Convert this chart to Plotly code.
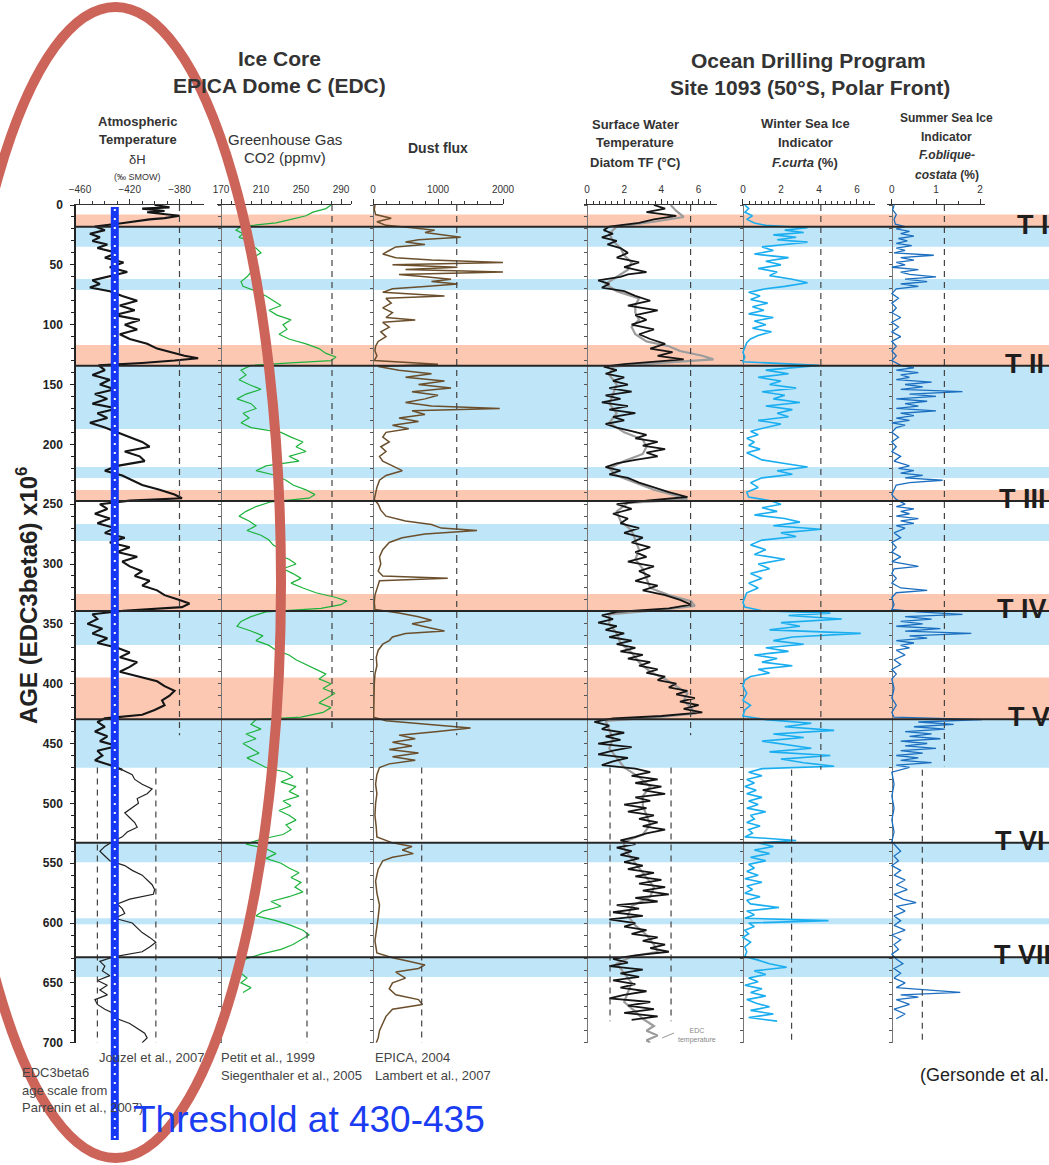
import plotly.graph_objects as go

W, H = 1049, 1165
FONT = "Liberation Sans, Arial, sans-serif"

# ---------------- data (age in kyr, value) ----------------
deltaH = [(0,-400),(2,-388),(3,-410),(5,-392),(6,-406),(8,-390),(9,-380),(11,-392),(12,-404),(15,-425),(18,-448),(21,-440),(24,-452),(27,-444),
          (30,-450),(33,-438),(36,-446),(40,-430),(44,-440),(48,-425),(52,-436),(56,-422),(60,-438),(63,-450),
          (66,-444),(69,-452),(72,-436),(76,-426),(80,-414),(84,-428),(88,-416),(92,-432),(96,-412),(100,-424),
          (104,-414),(108,-428),(112,-420),(116,-406),(120,-398),(123,-388),(126,-376),(128,-365),(130,-384),(132,-410),
          (134,-445),(138,-440),(142,-450),(146,-436),(150,-444),(154,-432),(158,-448),(162,-438),(166,-450),(170,-430),
          (174,-446),(178,-438),(182,-452),(186,-440),(190,-430),(194,-420),(198,-410),(202,-404),(206,-424),(210,-412),
          (214,-408),(218,-430),(222,-440),(226,-426),(230,-418),(234,-410),(238,-396),(242,-384),(245,-378),(247,-420),
          (250,-444),(254,-438),(258,-448),(262,-436),(266,-446),(270,-432),(274,-440),(278,-424),(282,-436),(286,-420),
          (290,-430),(294,-414),(298,-426),(302,-420),(306,-410),(310,-416),(314,-404),(318,-410),(322,-398),(326,-392),
          (330,-380),(333,-372),(336,-378),(339,-425),(342,-450),(346,-446),(350,-454),(354,-442),(358,-450),(362,-438),
          (366,-446),(370,-430),(374,-420),(378,-428),(382,-414),(386,-420),(390,-428),(394,-412),(398,-398),(402,-392),
          (406,-384),(410,-388),(414,-394),(418,-392),(422,-400),(426,-410),(429,-440),(432,-446),(436,-440),(440,-448),
          (444,-438),(448,-444),(452,-430),(456,-446),(460,-442),(464,-448),(468,-436),(472,-426),(476,-418),(480,-416),
          (484,-410),(488,-402),(492,-406),(496,-414),(500,-413),(504,-418),(508,-424),(512,-420),(516,-416),(520,-414),
          (524,-422),(528,-426),(532,-434),(536,-440),(540,-444),(544,-440),(548,-436),(552,-424),(556,-418),(560,-410),
          (564,-406),(568,-402),(572,-400),(576,-401),(580,-420),(584,-430),(588,-426),(592,-424),(596,-432),(600,-418),
          (604,-414),(608,-410),(612,-404),(616,-399),(620,-404),(624,-410),(628,-432),(632,-444),(636,-440),(640,-442),
          (644,-436),(648,-446),(652,-438),(656,-444),(660,-438),(664,-448),(668,-446),(672,-440),(676,-432),(680,-430),
          (684,-420),(688,-414),(692,-408),(696,-406),(700,-410)]

co2 = [(0,280),(3,275),(6,262),(9,255),(12,240),(15,225),(18,190),(21,185),(24,192),(27,188),(30,200),(33,195),
       (36,205),(40,210),(44,202),(48,198),(52,208),(56,200),(60,196),(64,190),(68,192),(72,205),(76,215),(80,222),
       (84,230),(88,218),(92,226),(96,240),(100,232),(104,236),(108,228),(112,238),(116,255),(120,268),(124,275),
       (127,285),(130,280),(132,240),(134,200),(138,190),(142,195),(146,188),(150,198),(154,210),(158,195),(162,186),
       (166,200),(170,205),(174,192),(178,198),(182,190),(186,200),(190,230),(194,240),(198,252),(202,245),(206,255),
       (210,238),(214,248),(218,215),(222,205),(226,225),(230,235),(234,242),(238,255),(242,264),(245,258),(248,220),
       (252,205),(256,195),(260,188),(264,198),(268,205),(272,196),(276,210),(280,218),(284,222),(288,230),(292,226),
       (296,238),(300,245),(304,232),(308,242),(312,250),(316,240),(320,252),(324,265),(328,285),(331,296),(334,290),
       (337,270),(340,215),(344,200),(348,190),(352,186),(356,200),(360,212),(364,205),(368,218),(372,225),(376,238),
       (380,245),(384,255),(388,265),(392,275),(396,268),(400,280),(404,272),(408,284),(412,276),(416,268),(420,280),
       (424,272),(428,250),(430,205),(434,200),(438,210),(442,195),(446,205),(450,192),(454,200),(458,208),(462,196),
       (466,205),(470,215),(474,235),(478,242),(482,230),(486,245),(490,238),(494,248),(498,232),(502,240),(506,228),
       (510,238),(514,245),(518,235),(522,240),(526,232),(530,210),(534,195),(538,215),(542,225),(546,215),(550,230),
       (554,238),(558,248),(562,240),(566,250),(570,244),(574,252),(578,238),(582,220),(586,230),(590,212),(594,205),
       (598,225),(602,240),(606,252),(610,258),(614,250),(618,242),(622,230),(626,210),(630,195),(634,190),(638,185),
       (642,190),(646,196),(650,190),(654,200),(658,192)]

dust = [(0,30),(4,20),(8,40),(11,280),(14,60),(17,200),(19,600),(21,950),(23,800),(25,1100),(27,1350),(29,700),
        (31,500),(33,800),(35,350),(38,250),(41,150),(44,350),(46,900),(48,2000),(50,300),(52,1300),(54,500),
        (56,2000),(58,400),(60,800),(62,1200),(64,900),(66,1300),(68,800),(70,300),(73,150),(76,1100),(78,200),
        (82,280),(86,150),(90,300),(94,200),(96,650),(98,150),(102,250),(106,120),(110,200),(114,80),(118,40),
        (122,30),(126,60),(130,20),(133,1000),(135,80),(138,400),(141,900),(144,500),(147,1100),(150,700),
        (153,1200),(156,600),(159,1000),(162,800),(165,500),(168,900),(170,1950),(172,600),(175,800),(178,400),
        (181,700),(184,300),(187,550),(190,200),(194,150),(198,250),(202,120),(206,200),(210,100),(214,150),
        (218,300),(222,450),(226,200),(230,100),(236,60),(242,30),(246,20),(250,80),(255,120),(260,200),(264,500),
        (267,900),(270,1050),(272,1600),(275,800),(278,450),(282,250),(288,150),(294,100),(300,120),(306,80),
        (310,150),(312,1150),(314,100),(320,60),(326,30),(332,20),(338,30),(341,400),(344,700),(347,900),(350,600),
        (353,850),(356,1100),(358,500),(361,300),(364,250),(367,150),(372,80),(378,50),(385,60),(392,30),(400,20),
        (410,15),(420,20),(428,10),(431,200),(434,900),(437,1500),(440,1000),(443,400),(446,650),(449,300),
        (452,600),(455,250),(458,700),(461,300),(464,650),(467,250),(470,100),(476,60),(484,40),(492,60),(500,40),
        (510,30),(520,50),(528,60),(533,300),(536,600),(539,450),(542,620),(545,300),(548,150),(555,80),(565,40),
        (575,60),(585,100),(595,80),(605,50),(615,30),(625,60),(629,300),(632,550),(635,800),(638,700),(641,350),
        (646,500),(650,300),(655,250),(660,350),(664,700),(668,760),(672,300),(678,200),(684,150),(690,100),
        (696,80),(700,50)]

sst_diatom = [(0,3.6),(3,4.2),(6,3.2),(9,4.8),(12,3.6),(15,2.8),(18,1.2),(21,0.9),(24,1.4),(27,0.8),(30,1.6),
              (33,1.1),(36,1.8),(40,2.2),(44,1.6),(48,2.8),(52,2.0),(56,3.2),(58,2.2),(60,1.8),(63,0.6),(66,1.2),
              (69,0.8),(72,2.0),(76,2.6),(80,3.4),(84,2.2),(88,3.8),(92,2.6),(96,3.2),(100,2.4),(104,3.6),(108,2.8),
              (112,3.4),(116,4.2),(120,3.4),(123,4.6),(126,3.8),(129,5.2),(131,3.6),(133,2.0),(135,0.9),(138,1.6),
              (141,1.0),(144,2.0),(147,1.4),(150,2.2),(153,1.2),(156,2.4),(159,1.0),(162,1.8),(165,0.8),(168,2.2),
              (171,1.2),(174,2.6),(177,1.4),(180,2.0),(183,1.0),(186,1.6),(189,2.4),(192,3.2),(195,2.6),(198,3.8),
              (201,3.0),(204,4.2),(207,3.2),(210,3.8),(213,2.6),(216,1.6),(219,1.0),(222,1.8),(225,1.2),(228,2.2),
              (232,2.8),(236,3.6),(240,4.4),(244,5.4),(247,3.2),(250,1.6),(254,2.4),(258,1.4),(262,2.2),(266,1.8),
              (270,2.8),(274,2.0),(278,3.0),(282,2.4),(286,3.4),(290,2.6),(294,3.2),(298,2.2),(302,3.6),(306,2.8),
              (310,3.4),(314,2.6),(318,3.8),(322,3.0),(326,4.2),(330,5.0),(334,5.6),(337,4.4),(340,1.6),(343,0.8),
              (346,1.4),(349,0.6),(352,1.6),(355,1.0),(358,2.0),(361,1.2),(364,2.4),(367,1.6),(370,2.6),(373,1.8),
              (376,3.0),(379,2.2),(382,3.4),(385,2.8),(388,3.8),(391,3.2),(394,4.2),(397,3.8),(400,4.8),(403,4.4),
              (406,5.4),(409,4.8),(412,5.8),(415,5.0),(418,6.0),(421,5.2),(424,6.2),(427,4.0),(429,1.4),(432,0.4),
              (435,1.2),(438,0.8),(441,2.0),(444,1.0),(447,1.8),(450,0.6),(453,2.4),(456,1.4),(459,0.6),(462,2.2),
              (465,1.4),(468,0.8),(471,2.6),(474,3.4),(477,2.4),(480,3.8),(483,2.6),(486,4.0),(489,3.0),(492,4.2),
              (495,2.6),(498,3.4),(501,2.0),(504,3.2),(507,2.2),(510,3.6),(513,2.8),(516,3.8),(519,3.0),(522,4.2),
              (525,3.2),(528,2.6),(531,1.8),(534,2.6),(537,1.6),(540,2.4),(543,1.8),(546,2.8),(549,2.0),(552,3.0),
              (555,2.2),(558,3.6),(561,2.6),(564,4.0),(567,2.8),(570,4.2),(573,3.0),(576,4.4),(579,2.6),(582,3.8),
              (585,1.6),(588,2.8),(591,1.4),(594,3.0),(597,1.2),(600,2.6),(603,2.0),(606,3.2),(609,2.4),(612,3.8),
              (615,3.0),(618,4.2),(621,3.4),(624,4.4),(627,2.6),(630,1.4),(633,2.2),(636,1.2),(639,3.0),(642,1.8),
              (645,2.8),(648,1.4),(651,2.6),(654,1.8),(657,3.2),(660,2.0),(663,1.2),(666,3.4),(669,2.2),(672,3.6),
              (675,2.0),(678,3.8),(681,2.4)]

sst_edc = [(0,4.5),(5,4.8),(10,5.2),(14,3.6),(18,1.6),(24,1.2),(30,1.4),(36,1.8),(42,2.0),(48,2.4),(54,2.2),
           (60,1.6),(66,1.0),(72,1.6),(78,2.8),(84,2.6),(90,2.6),(96,2.8),(102,2.4),(108,2.6),(114,3.2),(118,4.4),
           (122,5.0),(126,6.2),(129,6.8),(132,4.0),(135,1.4),(142,1.2),(150,1.6),(158,1.4),(166,1.2),(174,1.6),
           (182,1.2),(190,2.0),(196,3.0),(202,3.2),(208,3.0),(214,2.0),(220,1.2),(226,1.6),(232,2.6),(238,3.6),
           (243,4.8),(246,5.4),(249,2.2),(256,1.6),(264,1.8),(272,2.4),(280,2.6),(288,2.8),(296,2.6),(304,3.0),
           (312,3.2),(320,3.4),(326,4.4),(331,5.6),(335,5.8),(338,4.2),(342,1.2),(350,1.2),(358,1.6),(366,1.8),
           (374,2.4),(382,2.8),(390,3.4),(396,4.2),(402,4.8),(408,5.4),(414,5.2),(420,5.6),(425,5.8),(428,3.8),
           (431,1.0),(438,1.2),(446,1.4),(454,1.2),(462,1.6),(470,2.0),(478,2.8),(486,3.4),(494,3.0),(502,3.0),
           (510,3.2),(518,3.4),(526,3.0),(532,2.0),(538,2.0),(546,2.4),(554,2.8),(562,3.2),(570,3.6),(578,3.4),
           (586,2.4),(594,2.2),(602,2.6),(610,3.2),(618,3.6),(624,3.8),(628,2.4),(634,1.6),(642,2.0),(650,2.4),
           (658,2.2),(666,2.0),(674,2.6),(680,3.0),(686,3.6),(690,3.2),(694,3.8),(698,3.2),(700,3.4)]

winter_ice = [(0,0.1),(3,0.3),(6,0.1),(9,0.5),(12,0.2),(15,0.6),(17,1.2),(19,3.4),(21,2.2),(23,3.2),(25,1.6),
              (27,2.8),(29,1.8),(31,3.4),(33,2.2),(35,1.0),(38,1.6),(41,0.6),(44,2.4),(47,1.2),(50,2.0),(53,0.8),
              (56,1.8),(59,1.4),(62,2.6),(65,3.4),(68,2.2),(70,1.2),(73,0.3),(76,0.9),(79,0.4),(82,1.3),(85,0.5),
              (88,1.1),(91,0.3),(94,1.6),(97,0.6),(100,1.2),(103,0.5),(106,1.5),(109,0.8),(112,0.4),(115,0.2),
              (119,0.1),(123,0.0),(127,0.1),(131,0.0),(134,4.0),(136,2.6),(138,1.2),(141,2.4),(144,0.8),(147,2.0),
              (150,1.4),(153,2.8),(156,1.0),(159,2.2),(162,1.6),(165,3.0),(168,1.2),(171,2.6),(174,1.8),(177,2.4),
              (180,0.8),(183,2.0),(186,1.2),(189,0.4),(192,0.8),(195,0.2),(198,0.6),(201,0.3),(204,0.9),(207,0.2),
              (210,0.6),(213,1.0),(216,2.2),(219,3.4),(222,1.8),(225,2.6),(228,1.0),(232,0.4),(236,0.8),(240,0.2),
              (244,0.3),(247,1.4),(250,2.0),(253,1.0),(256,1.8),(259,0.6),(262,2.2),(265,3.0),(268,1.6),(271,4.1),
              (274,2.0),(277,2.8),(280,1.0),(284,0.4),(288,1.2),(292,0.6),(296,2.2),(300,0.8),(304,1.4),(308,0.4),
              (312,1.0),(316,0.3),(320,0.8),(324,0.2),(328,0.1),(332,0.0),(336,0.1),(339,1.0),(341,4.6),(343,2.4),
              (346,5.2),(349,2.0),(352,3.0),(355,1.4),(358,6.2),(361,2.6),(364,1.6),(367,3.2),(370,1.2),(373,2.4),
              (376,0.6),(379,1.8),(382,1.0),(385,2.6),(388,0.8),(391,1.4),(394,0.4),(397,0.1),(402,0.0),(408,0.2),
              (414,0.0),(418,0.4),(422,0.1),(427,0.0),(430,1.2),(433,3.6),(436,2.2),(439,4.8),(442,1.6),(445,3.2),
              (448,1.0),(451,2.4),(454,3.6),(457,1.4),(460,4.6),(463,2.0),(466,3.2),(469,4.8),(471,1.0),(474,0.3),
              (477,1.0),(480,0.2),(483,0.6),(486,0.1),(489,0.7),(492,0.2),(495,1.0),(498,0.3),(501,0.8),(504,0.2),
              (507,1.2),(510,0.4),(513,0.6),(516,0.2),(519,0.9),(522,0.3),(525,0.5),(528,0.1),(531,2.8),(533,0.8),
              (536,1.6),(539,0.6),(542,1.4),(545,0.4),(548,1.2),(551,0.3),(554,0.6),(557,0.2),(560,0.8),(563,0.1),
              (566,1.0),(569,0.2),(572,0.5),(575,0.1),(578,0.9),(581,0.2),(584,0.4),(587,1.9),(590,0.2),(593,0.6),
              (596,0.1),(598,4.5),(600,0.3),(603,0.6),(606,0.1),(609,0.3),(612,0.0),(616,0.4),(620,0.1),(624,0.2),
              (628,0.1),(631,0.8),(634,1.4),(637,2.3),(640,0.6),(643,1.2),(646,0.3),(649,0.8),(652,0.1),(655,1.0),
              (658,0.4),(661,1.2),(664,0.2),(667,0.7),(670,1.4),(673,0.4),(676,1.6),(679,0.3),(682,1.8)]

summer_ice = [(0,0.05),(4,0.02),(8,0.1),(12,0.05),(16,0.08),(18,0.3),(20,0.1),(22,0.4),(24,0.2),(26,0.5),
              (28,0.15),(30,0.35),(32,0.1),(34,0.45),(36,0.1),(38,0.3),(40,0.05),(42,0.95),(44,0.2),(46,0.5),
              (48,0.1),(50,0.3),(52,0.0),(54,0.6),(56,0.2),(58,0.4),(60,1.0),(62,0.3),(64,0.8),(66,0.2),(68,0.6),
              (70,0.1),(74,0.0),(78,0.15),(82,0.0),(86,0.1),(90,0.0),(94,0.2),(98,0.0),(102,0.15),(106,0.0),
              (110,0.2),(114,0.0),(118,0.1),(122,0.0),(126,0.1),(130,0.0),(134,0.2),(136,0.5),(138,0.1),(140,0.6),
              (142,0.2),(144,0.4),(146,0.1),(148,0.9),(150,0.3),(152,0.7),(154,0.2),(156,1.6),(158,0.4),(160,1.0),
              (162,0.1),(164,0.8),(166,0.3),(168,0.6),(170,0.1),(172,1.0),(174,0.2),(176,0.5),(178,0.1),(180,0.4),
              (182,0.0),(184,0.3),(186,0.1),(190,0.0),(194,0.15),(198,0.0),(202,0.1),(206,0.0),(210,0.2),
              (214,0.05),(218,0.4),(220,0.15),(222,0.5),(224,0.2),(226,0.7),(228,0.3),(230,1.15),(232,0.4),
              (234,0.1),(238,0.05),(242,0.0),(246,0.1),(250,0.3),(252,0.1),(254,0.5),(256,0.2),(258,0.4),(260,0.1),
              (262,0.6),(264,0.2),(266,0.5),(268,0.1),(270,0.3),(274,0.05),(278,0.2),(282,0.0),(286,0.1),(290,0.0),
              (294,0.2),(298,0.0),(302,0.6),(304,0.05),(308,0.0),(312,0.1),(316,0.0),(320,0.2),(322,0.8),(324,0.1),
              (328,0.0),(334,0.05),(338,0.0),(340,0.6),(342,1.6),(344,0.3),(346,0.9),(348,0.2),(350,0.7),(352,0.1),
              (354,1.1),(356,0.3),(358,1.8),(360,0.4),(362,0.8),(364,0.1),(366,0.5),(368,0.2),(370,0.4),(372,0.1),
              (376,0.3),(380,0.05),(384,0.2),(388,0.0),(392,0.1),(396,0.0),(404,0.05),(412,0.0),(418,0.1),
              (424,0.0),(428,0.05),(430,2.05),(432,0.6),(434,1.4),(436,0.5),(438,1.2),(440,0.3),(442,0.9),
              (444,0.4),(446,1.1),(448,0.2),(450,0.8),(452,0.3),(454,1.0),(456,0.2),(458,0.7),(460,0.1),(462,0.6),
              (464,0.2),(466,0.9),(468,0.1),(470,0.4),(474,0.0),(484,0.05),(494,0.0),(504,0.05),(514,0.0),
              (524,0.05),(532,0.0),(536,0.1),(540,0.2),(544,0.05),(548,0.15),(552,0.0),(556,0.2),(560,0.05),
              (564,0.3),(568,0.1),(572,0.35),(576,0.05),(580,0.25),(583,0.55),(586,0.1),(590,0.3),(594,0.05),
              (598,0.2),(602,0.05),(606,0.3),(610,0.0),(614,0.2),(618,0.05),(622,0.15),(626,0.0),(630,0.1),
              (634,0.25),(638,0.05),(642,0.2),(646,0.05),(650,0.3),(654,0.1),(658,1.55),(660,0.2),(662,0.6),
              (664,0.1),(668,0.4),(672,0.05),(676,0.3),(680,0.1)]

# warm (interglacial) and cold bands, in kyr
warm_start = [8, 117, 238.2, 325.1, 394.8]
warm_end = [18.1, 134.3, 247.3, 339.3, 429.8]
cold_start = [18.1, 61.8, 134.3, 218.9, 266.6, 339.3, 429.8, 533.2, 596, 629]
cold_end = [34.8, 71, 187.2, 228.1, 280.8, 367.7, 470.2, 549.3, 601, 645]

# terminations
term_age = [18.1, 134.3, 247.3, 339.3, 429.8, 532.9, 628.6]
term_label = ["T I", "T II", "T III", "T IV", "T V", "T VI", "T VII"]

# dashed reference levels: (value, age from, age to)
ref_deltaH = [(-380, 0, 443), (-446, 470, 700), (-399, 470, 700)]
ref_co2 = [(281, 0, 441), (256, 470, 700)]
ref_dust = [(1288, 0, 443), (749, 470, 700)]
ref_sst = [(5.57, 0, 443), (1.24, 470, 682), (4.52, 470, 682)]
ref_winter = [(4.1, 0, 472), (2.56, 472, 700)]
ref_summer = [(1.19, 0, 469), (0.69, 472, 700)]

threshold_deltaH = -432
thin_from_age = 470  # deltaH drawn thinner below this age

# ---------------- layout helpers ----------------
def px(x):
    return x / W

def py(y):
    return 1 - y / H

Y_TOP, Y_BOT = 205, 1042.7
ydom = [py(Y_BOT), py(Y_TOP)]

def split(pts):
    return [p[0] for p in pts], [p[1] for p in pts]

fig = go.Figure()

def add_line(pts, xa, color, width):
    a, v = split(pts)
    fig.add_trace(go.Scatter(x=v, y=a, xaxis=xa, yaxis="y", mode="lines",
                             line=dict(color=color, width=width), hoverinfo="skip", showlegend=False))

add_line([p for p in deltaH if p[0] <= thin_from_age + 2], "x", "#151515", 2.1)
add_line([p for p in deltaH if p[0] >= thin_from_age - 2], "x", "#222222", 1.2)
add_line(co2, "x2", "#1db33c", 1.2)
add_line(dust, "x3", "#6b4f2c", 1.5)
add_line(sst_edc, "x4", "#9c9c9c", 2.2)
add_line(sst_diatom, "x4", "#151515", 1.8)
add_line(winter_ice, "x5", "#1aaef0", 1.6)
add_line(summer_ice, "x6", "#1c6fc0", 1.3)

# dummy traces so the overlay axes (panel vertical lines) are drawn
for k in range(2, 7):
    fig.add_trace(go.Scatter(x=[None], y=[None], xaxis="x", yaxis=f"y{k}", showlegend=False, hoverinfo="skip"))

tickfont = dict(size=10, color="#333", family=FONT)

def xax(dom, rng, tick0, dtick, mdtick):
    return dict(domain=[px(dom[0]), px(dom[1])], range=rng, side="top", anchor="y",
                tickmode="linear", tick0=tick0, dtick=dtick, ticks="outside", ticklen=5,
                tickcolor="#333", tickwidth=1, showline=True, linecolor="#333", linewidth=1.2,
                showgrid=False, zeroline=False, tickfont=tickfont, ticklabelstandoff=2,
                minor=dict(ticks="outside", ticklen=3, dtick=mdtick, tickcolor="#333", showgrid=False))

layout = dict(
    width=W, height=H, margin=dict(l=0, r=0, t=0, b=0, autoexpand=False),
    paper_bgcolor="white", plot_bgcolor="rgba(0,0,0,0)", showlegend=False,
    font=dict(family=FONT, color="#333"),
    xaxis=xax((74, 204), [-464.8, -360.3], -460, 40, 10),
    xaxis2=xax((217, 351), [166, 300], 170, 40, 10),
    xaxis3=xax((373, 503), [0, 2000], 0, 1000, 200),
    xaxis4=xax((584, 717), [-0.16, 6.99], 0, 2, 1 / 3),
    xaxis5=xax((742, 875), [-0.05, 6.95], 0, 2, 1 / 3),
    xaxis6=xax((887, 985), [-0.11, 2.11], 0, 1, 0.5),
    yaxis=dict(domain=ydom, range=[700, 0], anchor="free", position=px(75), side="left",
               tickmode="linear", tick0=0, dtick=50, ticks="outside", ticklen=4, tickcolor="#222",
               showline=True, linecolor="#222", linewidth=1.5, showgrid=False, zeroline=False,
               tickfont=dict(size=12, color="#222", family=FONT, weight="bold"), ticklabelstandoff=5,
               minor=dict(ticks="outside", ticklen=3, dtick=10, tickcolor="#222", showgrid=False)),
)
panel_zero_px = [221, 373, 587, 743, 892]
for k, xpos in zip(range(2, 7), panel_zero_px):
    layout[f"yaxis{k}"] = dict(overlaying="y", anchor="free", position=px(xpos), side="left",
                               range=[700, 0], showline=True, linecolor="#777", linewidth=1.4,
                               ticks="outside", ticklen=3, tickcolor="#555", tickmode="linear",
                               tick0=0, dtick=10, showticklabels=False, showgrid=False, zeroline=False)
fig.update_layout(**layout)

shapes = []
for a0, a1 in zip(warm_start, warm_end):
    shapes.append(dict(type="rect", xref="paper", yref="y", x0=px(75), x1=1, y0=a0, y1=a1,
                       fillcolor="#fdc8b2", line=dict(width=0), layer="below"))
for a0, a1 in zip(cold_start, cold_end):
    shapes.append(dict(type="rect", xref="paper", yref="y", x0=px(75), x1=1, y0=a0, y1=a1,
                       fillcolor="#bee6f8", line=dict(width=0), layer="below"))

for xa, refs in [("x", ref_deltaH), ("x2", ref_co2), ("x3", ref_dust), ("x4", ref_sst),
                 ("x5", ref_winter), ("x6", ref_summer)]:
    for v, a0, a1 in refs:
        shapes.append(dict(type="line", xref=xa, yref="y", x0=v, x1=v, y0=a0, y1=a1,
                           line=dict(color="#444", width=1.2, dash="6px,5px")))

for a in term_age:
    shapes.append(dict(type="line", xref="paper", yref="y", x0=px(75), x1=1, y0=a, y1=a,
                       line=dict(color="#262626", width=2)))

# blue threshold line with white dots
shapes.append(dict(type="line", xref="x", yref="paper", x0=threshold_deltaH, x1=threshold_deltaH,
                   y0=py(1140), y1=py(207), line=dict(color="#1638f4", width=8)))
shapes.append(dict(type="line", xref="x", yref="paper", x0=threshold_deltaH, x1=threshold_deltaH,
                   y0=py(1138), y1=py(209), line=dict(color="white", width=2, dash="2px,7px")))

# EDC temperature connector
shapes.append(dict(type="line", xref="paper", yref="paper", x0=px(662), x1=px(674), y0=py(1038), y1=py(1033),
                   line=dict(color="#999", width=1)))

# red ellipse
shapes.append(dict(type="circle", xref="paper", yref="paper", x0=px(-50), x1=px(281),
                   y0=py(1158), y1=py(7), line=dict(color="#cd6459", width=10)))
fig.update_layout(shapes=shapes)

ann = []

def note(x, y, text, size, color="#333", bold=False, xanchor="center", yanchor="middle", angle=0):
    ann.append(dict(x=px(x), y=py(y), xref="paper", yref="paper", text=text, showarrow=False,
                    xanchor=xanchor, yanchor=yanchor, textangle=angle,
                    font=dict(size=size, color=color, family=FONT, weight="bold" if bold else "normal")))

note(279, 58, "Ice Core", 21, bold=True)
note(279, 86, "EPICA Dome C (EDC)", 21, bold=True)
note(808, 60, "Ocean Drilling Program", 21, bold=True)
note(810, 87, "Site 1093 (50°S, Polar Front)", 21, bold=True)

note(138, 122, "Atmospheric", 13, bold=True)
note(138, 140, "Temperature", 13, bold=True)
note(138, 159, "δH", 13)
note(138, 177, "(‰ SMOW)", 9)
note(285, 139, "Greenhouse Gas", 15)
note(285, 158, "CO2 (ppmv)", 15)
note(438, 148, "Dust flux", 14, bold=True)
note(635, 125, "Surface Water", 13, bold=True)
note(635, 143, "Temperature", 13, bold=True)
note(635, 162, "Diatom TF (°C)", 13, bold=True)
note(805, 123, "Winter Sea Ice", 13, bold=True)
note(805, 142, "Indicator", 13, bold=True)
note(805, 162, "<i>F.curta</i> (%)", 13, bold=True)
note(947, 118, "Summer Sea Ice", 12, bold=True)
note(947, 137, "Indicator", 12, bold=True)
note(947, 155, "<i>F.oblique-</i>", 12, bold=True)
note(947, 175, "<i>costata</i> (%)", 12, bold=True)

note(27, 596, "AGE (EDC3beta6) x10<sup>6</sup>", 24, color="#222", bold=True, angle=-90)

note(97, 1057, "Jouzel et al., 2007", 13, color="#444", xanchor="left")
note(219, 1057, "Petit et al., 1999", 13, color="#444", xanchor="left")
note(219, 1075, "Siegenthaler et al., 2005", 13, color="#444", xanchor="left")
note(373, 1057, "EPICA, 2004", 13, color="#444", xanchor="left")
note(373, 1075, "Lambert et al., 2007", 13, color="#444", xanchor="left")
note(20, 1072, "EDC3beta6", 13, color="#444", xanchor="left")
note(20, 1090, "age scale from", 13, color="#444", xanchor="left")
note(20, 1107, "Parrenin et al., 2007)", 13, color="#444", xanchor="left")
note(918, 1075, "(Gersonde et al., 2005)", 18, color="#222", xanchor="left")
note(676, 1035, "EDC<br>temperature", 7, color="#888", xanchor="left")
note(131, 1119, "Threshold at 430-435", 37, color="#1a3df2", xanchor="left")

term_x = [1015, 1003, 997, 995, 1006, 993, 992]
for a, lab, xs in zip(term_age, term_label, term_x):
    ann.append(dict(x=px(xs), y=a, xref="paper", yref="y", text=lab, showarrow=False,
                    xanchor="left", yanchor="middle", yshift=2,
                    font=dict(size=27, color="#1e1e1e", family=FONT, weight="bold")))

fig.update_layout(annotations=ann)
fig.write_html("out.html",
               post_script="document.body.style.margin='0';document.body.style.overflow='hidden';")
